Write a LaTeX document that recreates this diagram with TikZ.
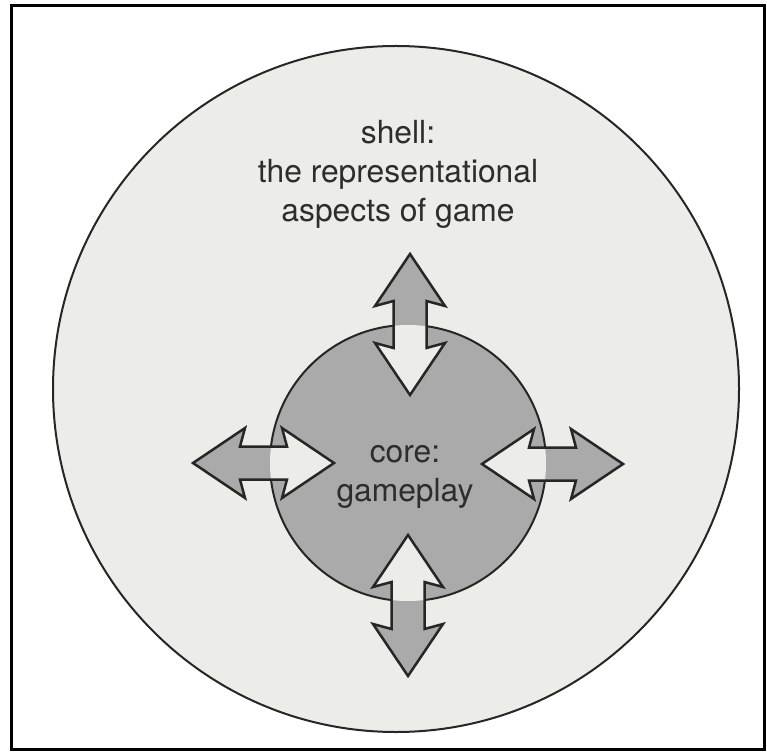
\documentclass[tikz,border=0pt]{standalone}
\usepackage{fontspec}
\setmainfont{TeX Gyre Heros}
\definecolor{shellc}{RGB}{236,236,233}
\definecolor{corec}{RGB}{170,170,170}
\definecolor{linec}{RGB}{38,38,38}
\definecolor{textc}{RGB}{45,45,45}
\tikzset{
  dblarrow/.pic={\path[pic actions] (0,0) -- (52,35) -- (47,16.5) -- (94,16.5) -- (89,35) -- (141,0)
      -- (89,-35) -- (94,-16.5) -- (47,-16.5) -- (52,-35) -- cycle;},
  ring/.style={circle, draw=linec, line width=2pt, inner sep=0pt},
  label text/.style={text=textc, align=center, inner sep=0pt, font=\fontsize{31.8}{39}\selectfont}
}
\newcommand\placearrows[1]{%
  \pic[#1, rotate=-90] at (atop) {dblarrow};
  \pic[#1, rotate=-90] at (abot) {dblarrow};
  \pic[#1] at (aleft) {dblarrow};
  \pic[#1] at (aright) {dblarrow};
}
\begin{document}
\begin{tikzpicture}[x=1pt,y=1pt]
\useasboundingbox (0,0) rectangle (767,753);
\fill[white] (0,0) rectangle (767,753);
\draw[line width=3pt] (11,4) rectangle (764,747);
\node[ring, fill=shellc, minimum size=686pt] (shell) at (396,364) {};
\node[ring, fill=corec, minimum size=276pt] (core) at (408,290) {};
\coordinate (atop) at (410,499);
\coordinate (abot) at (408,218);
\coordinate (aleft) at (193,290);
\coordinate (aright) at (482,289);
\placearrows{fill=corec}
\begin{scope}
  \clip (core.center) circle[radius=138];
  \placearrows{fill=shellc}
\end{scope}
\placearrows{draw=linec, line width=2.5pt, line join=miter}
\node[label text, anchor=north] (shelltxt) at (398,633) {shell:\\the representational\\aspects of game};
\node[label text, anchor=north] (coretxt) at (405,308) {core:\\gameplay};
\end{tikzpicture}
\end{document}
